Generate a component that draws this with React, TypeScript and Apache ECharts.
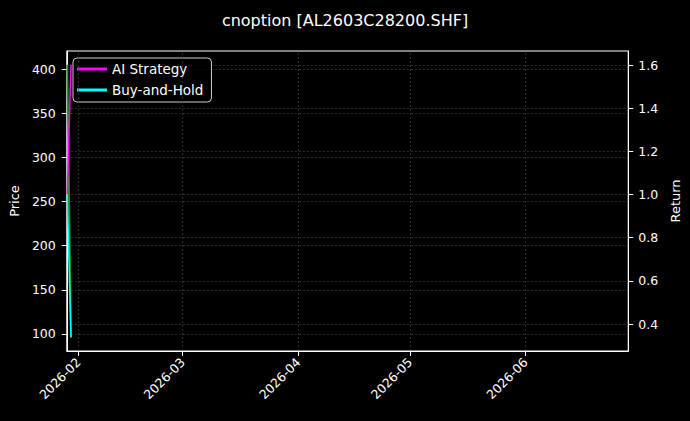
import { useEffect, useRef } from 'react'
import * as echarts from 'echarts'

const FONT = 'DejaVu Sans'

// two trading days only, the rest of the axis runs to the end of June
const dates = ['2026-01-29', '2026-01-30']
const price = [404.9, 96.2]
const aiStrategy = [1.0, 1.601]
const buyHold = [1.0, 0.338]

const monthTicks = ['2026-02-01', '2026-03-01', '2026-04-01', '2026-05-01', '2026-06-01']
const priceTicks = [100, 150, 200, 250, 300, 350, 400]
const returnTicks = [0.4, 0.6, 0.8, 1.0, 1.2, 1.4, 1.6]

const toPairs = (vals: number[]) => dates.map((d, i) => [d, vals[i]])

const gridLine = { color: '#4d4d4d', type: [2, 2], width: 0.6 }

export default function App() {
  const ref = useRef<HTMLDivElement>(null)

  useEffect(() => {
    if (!ref.current) return
    document.body.style.background = '#000'
    const chart = echarts.init(ref.current, null, { renderer: 'svg' })

    chart.setOption({
      animation: false,
      backgroundColor: '#000',
      textStyle: { fontFamily: FONT },
      title: {
        text: 'cnoption [AL2603C28200.SHF]',
        left: 'center',
        top: 7,
        textStyle: { color: '#fff', fontSize: 16, fontWeight: 'normal', fontFamily: FONT },
      },
      legend: {
        left: 73,
        top: 58,
        orient: 'vertical',
        data: ['AI Strategy', 'Buy-and-Hold'],
        icon: 'rect',
        itemWidth: 30,
        itemHeight: 3,
        itemGap: 7,
        padding: [4, 8, 5, 4],
        backgroundColor: 'rgba(0,0,0,0.8)',
        borderColor: '#cccccc',
        borderWidth: 1,
        borderRadius: 4,
        textStyle: { color: '#fff', fontSize: 13.5, fontFamily: FONT },
      },
      grid: { left: 66, right: 61, top: 51, bottom: 70, show: true, borderColor: '#fff', borderWidth: 1 },
      xAxis: {
        type: 'time',
        min: '2026-01-28 20:50',
        max: '2026-06-28 13:40',
        axisLine: { show: true, lineStyle: { color: '#fff' } },
        axisTick: { show: true, length: 5, lineStyle: { color: '#fff' }, customValues: monthTicks },
        axisLabel: {
          color: '#fff',
          fontSize: 12.5,
          rotate: 45,
          margin: 9,
          customValues: monthTicks,
          formatter: '{yyyy}-{MM}',
        },
        splitLine: { show: false },
      },
      yAxis: [
        {
          type: 'value',
          position: 'left',
          min: 80.75,
          max: 420.4,
          splitNumber: 7,
          name: 'Price',
          nameLocation: 'middle',
          nameRotate: 90,
          nameGap: 39,
          nameTextStyle: { color: '#fff', fontSize: 13, fontFamily: FONT },
          axisLine: { show: true, lineStyle: { color: '#fff' } },
          axisTick: { show: true, length: 5, lineStyle: { color: '#fff' }, customValues: priceTicks },
          axisLabel: { color: '#fff', fontSize: 12.5, margin: 11, customValues: priceTicks },
          splitLine: { show: true, lineStyle: gridLine },
        },
        {
          type: 'value',
          position: 'right',
          min: 0.2749,
          max: 1.6649,
          splitNumber: 7,
          name: 'Return',
          nameLocation: 'middle',
          nameRotate: 90,
          nameGap: 33,
          nameTextStyle: { color: '#fff', fontSize: 13, fontFamily: FONT },
          axisLine: { show: true, lineStyle: { color: '#fff' } },
          axisTick: { show: true, length: 5, lineStyle: { color: '#fff' }, customValues: returnTicks },
          axisLabel: {
            color: '#fff',
            fontSize: 12.5,
            margin: 10,
            customValues: returnTicks,
            formatter: (v: number) => v.toFixed(1),
          },
          splitLine: { show: true, lineStyle: gridLine },
        },
      ],
      series: [
        {
          name: 'Price',
          type: 'line',
          yAxisIndex: 0,
          data: toPairs(price),
          showSymbol: false,
          lineStyle: { color: '#20a020', width: 1.8 },
          itemStyle: { color: '#20a020' },
          markLine: {
            silent: true,
            symbol: 'none',
            label: { show: false },
            lineStyle: gridLine,
            data: monthTicks.map((m) => ({ xAxis: m })),
          },
        },
        {
          name: 'AI Strategy',
          type: 'line',
          yAxisIndex: 1,
          data: toPairs(aiStrategy),
          showSymbol: false,
          lineStyle: { color: '#ff00ff', width: 1.5 },
          itemStyle: { color: '#ff00ff' },
        },
        {
          name: 'Buy-and-Hold',
          type: 'line',
          yAxisIndex: 1,
          data: toPairs(buyHold),
          showSymbol: false,
          lineStyle: { color: '#00ffff', width: 1.5 },
          itemStyle: { color: '#00ffff' },
        },
      ],
    })

    return () => chart.dispose()
  }, [])

  return (
    <div
      ref={ref}
      style={{ position: 'fixed', left: 0, top: 0, width: 690, height: 421, background: '#000' }}
    />
  )
}
